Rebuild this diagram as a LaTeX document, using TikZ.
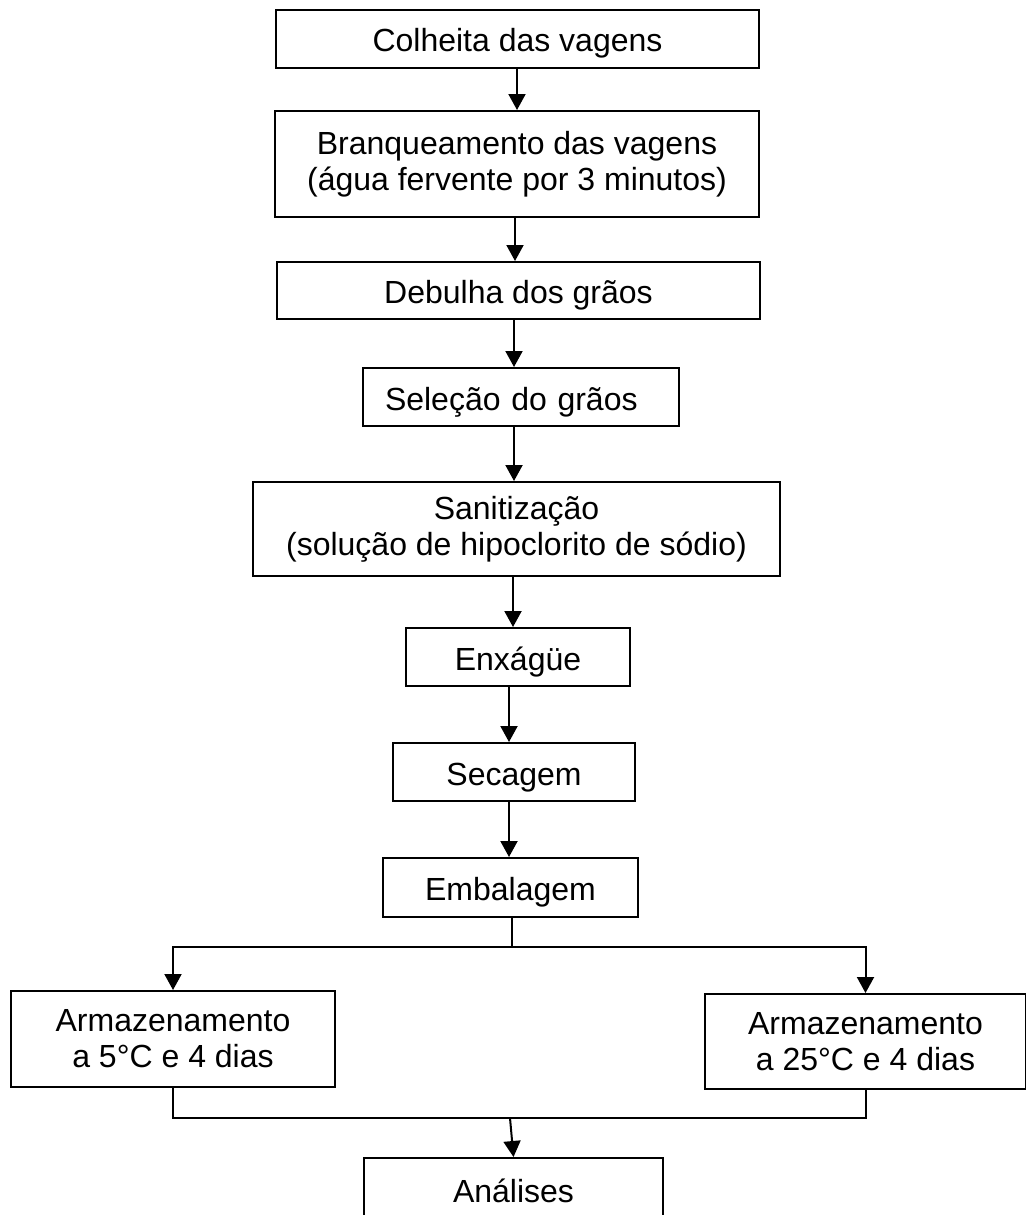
\documentclass[tikz,border=0pt]{standalone}
\usepackage{fontspec}
\setmainfont{Liberation Sans}
\usetikzlibrary{arrows.meta}

\tikzset{
  etapa/.style={draw,line width=2pt,inner sep=0pt,align=center,
    font=\fontsize{32}{36}\selectfont},
  umalinha/.style={etapa,text height=26pt,text depth=0pt},
  seta/.style={-{Triangle[length=16pt,width=17pt]},line width=2pt},
  linha/.style={line width=2pt}
}

\begin{document}
\begin{tikzpicture}[x=1pt,y=-1pt]
        % the page (pixels, y going down)
        \useasboundingbox (0,0) rectangle (1025,1215);

        %% the steps
        \node[umalinha,minimum width=483pt,minimum height=58pt] (colheita) at (517.5,39) {Colheita das vagens};
        \node[etapa,minimum width=484pt,minimum height=106pt] (branqueamento) at (517,164) {Branqueamento das vagens\\(água fervente por 3 minutos)};
        \node[umalinha,minimum width=483pt,minimum height=57pt] (debulha) at (518.5,290.5) {Debulha dos grãos};
        \node[umalinha,minimum height=58pt,inner xsep=22pt,text width=272pt,align=left] (selecao) at (521,397) {Seleção do grãos};
        \node[etapa,minimum width=527pt,minimum height=94pt] (sanitizacao) at (516.5,529) {Sanitização\\(solução de hipoclorito de sódio)};
        \node[umalinha,minimum width=224pt,minimum height=58pt] (enxague) at (518,657) {Enxágüe};
        \node[umalinha,minimum width=242pt,minimum height=58pt] (secagem) at (514,772) {Secagem};
        \node[umalinha,minimum width=255pt,minimum height=59pt] (embalagem) at (510.5,887.5) {Embalagem};
        \node[etapa,minimum width=324pt,minimum height=96pt] (arm5) at (173,1039) {Armazenamento\\a 5°C e 4 dias};
        \node[etapa,minimum width=321pt,minimum height=95pt] (arm25) at (865.5,1041.5) {Armazenamento\\a 25°C e 4 dias};
        \node[umalinha,minimum width=299pt,minimum height=62pt] (analises) at (513.5,1189) {Análises};

        %% the arrows down the main line
        \foreach \a/\b/\x in {colheita/branqueamento/517,branqueamento/debulha/515,
          debulha/selecao/514,selecao/sanitizacao/514,sanitizacao/enxague/513,
          enxague/secagem/509,secagem/embalagem/509}
        {
          \draw[seta] (\a.south -| \x,0) -- (\b.north -| \x,0);
        }

        % split into the two storages
        \coordinate (ramo) at (512,947);
        \coordinate (juncao) at (510,1118);
        \draw[linha] (embalagem.south -| ramo) -- (ramo);
        \draw[seta] (ramo) -| (arm5.north);
        \draw[seta] (ramo) -| (arm25.north);

        % join again
        \draw[linha] (arm5.south) |- (juncao);
        \draw[linha] (arm25.south) |- (juncao);
        \draw[seta] (juncao) -- (analises.north);
      \end{tikzpicture}
\end{document}
